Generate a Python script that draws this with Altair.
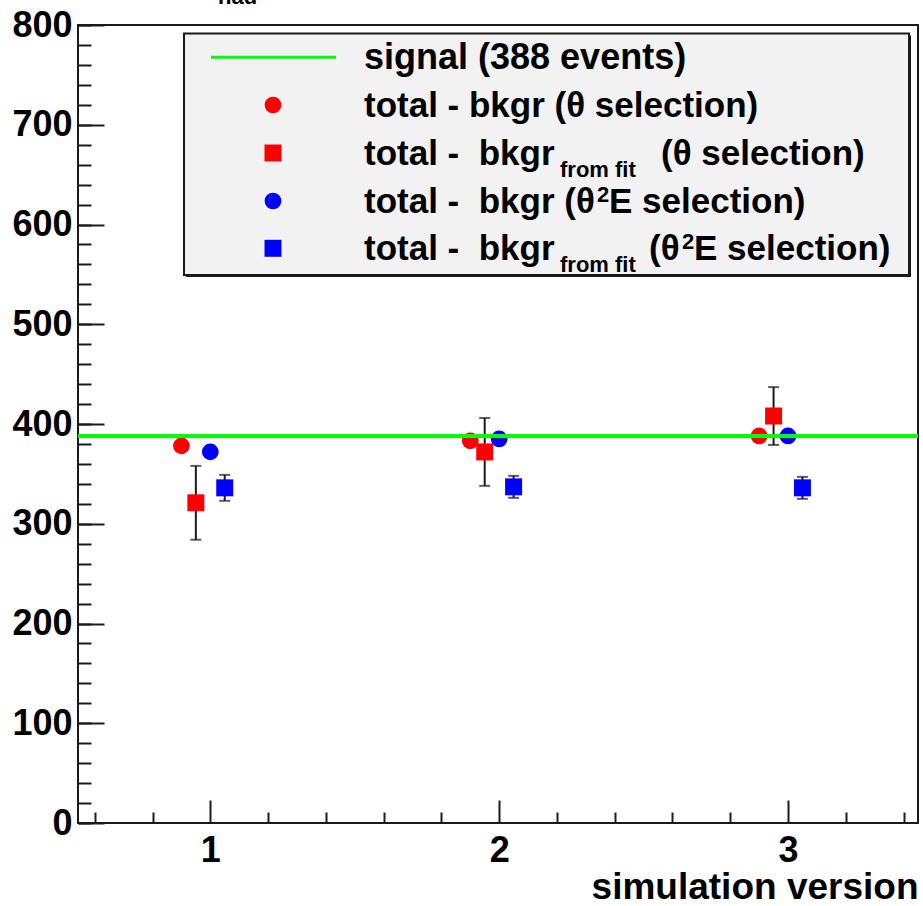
import altair as alt
import pandas as pd

FONT = "Liberation Sans"

# simulation versions and the horizontal placement of each series around them
versions = [1, 2, 3]
x_theta_bkgr = [0.90, 1.90, 2.90]
x_theta_fit = [0.95, 1.95, 2.95]
x_th2e_bkgr = [1.00, 2.00, 3.00]
x_th2e_fit = [1.05, 2.05, 3.05]

# signal estimates (events)
theta_bkgr = [378, 383, 388]
theta_fit = [321, 372, 408]
theta_fit_err = [37, 34, 29]
th2e_bkgr = [372, 385, 388]
th2e_fit = [336, 337, 336]
th2e_fit_err = [13, 11, 11]

signal_events = 388

# axis ranges and tick positions
x_domain = [0.542, 3.45]
y_domain = [0, 800]
x_major_ticks = [1, 2, 3]
x_minor_ticks = [0.6, 0.8, 1.2, 1.4, 1.6, 1.8, 2.2, 2.4, 2.6, 2.8, 3.2, 3.4]
y_major_ticks = [0, 100, 200, 300, 400, 500, 600, 700, 800]
y_minor_ticks = [0, 20, 40, 60, 80, 100, 120, 140, 160, 180, 200, 220, 240, 260,
                 280, 300, 320, 340, 360, 380, 400, 420, 440, 460, 480, 500, 520,
                 540, 560, 580, 600, 620, 640, 660, 680, 700, 720, 740, 760, 780, 800]

W, H = 840, 798
RED, BLUE, GREEN, INK = "#ff0000", "#0000ff", "#00ff00", "#1a1a1a"
CIRCLE_SIZE, SQUARE_SIZE = 280, 289
TICK_FONT, TITLE_FONT = 36, 37

xs = alt.Scale(domain=x_domain, nice=False, zero=False)
ys = alt.Scale(domain=y_domain, nice=False, zero=False)


def X(field, axis=None):
    if axis is None:
        return alt.X(field, type="quantitative", scale=xs, axis=None)
    return alt.X(field, type="quantitative", scale=xs, axis=axis, title=None)


def Y(field, axis=None):
    if axis is None:
        return alt.Y(field, type="quantitative", scale=ys, axis=None)
    return alt.Y(field, type="quantitative", scale=ys, axis=axis, title=None)


def markers(xv, yv, shape, color, size):
    df = pd.DataFrame({"x": xv, "y": yv})
    return alt.Chart(df).mark_point(
        shape=shape, filled=True, size=size, color=color, opacity=1, strokeWidth=0
    ).encode(x=X("x"), y=Y("y"))


def error_bars(xv, yv, ev):
    df = pd.DataFrame({"x": xv, "lo": [v - e for v, e in zip(yv, ev)],
                       "hi": [v + e for v, e in zip(yv, ev)]})
    base = alt.Chart(df)
    stem = base.mark_rule(color=INK, strokeWidth=2).encode(x=X("x"), y=Y("lo"), y2="hi")
    cap_lo = base.mark_tick(orient="horizontal", size=11, thickness=2, color=INK).encode(x=X("x"), y=Y("lo"))
    cap_hi = base.mark_tick(orient="horizontal", size=11, thickness=2, color=INK).encode(x=X("x"), y=Y("hi"))
    return [stem, cap_lo, cap_hi]


points_df = pd.DataFrame({"x": x_th2e_bkgr, "y": th2e_bkgr})

# axes carrying the tick labels and the x title (ticks are drawn inward separately)
label_axes = alt.Chart(points_df).mark_point(opacity=0).encode(
    x=alt.X("x", type="quantitative", scale=xs, title="simulation version",
            axis=alt.Axis(values=x_major_ticks, format="d", ticks=False, domain=False, grid=False,
                          labelFont=FONT, labelFontSize=TICK_FONT, labelFontWeight="bold",
                          labelColor="black", labelPadding=10, labelFlush=False,
                          labelOverlap=False, titleFont=FONT, titleFontSize=TITLE_FONT,
                          titleFontWeight="bold", titleColor="black", titleAnchor="end",
                          titleAlign="right", titleBaseline="alphabetic", titleX=W, titleY=75)),
    y=Y("y", alt.Axis(values=y_major_ticks, format="d", ticks=False, domain=False, grid=False,
                      labelFont=FONT, labelFontSize=TICK_FONT, labelFontWeight="bold",
                      labelColor="black", labelPadding=6, labelOverlap=False)),
)


def inward_ticks(xvals, yvals, xlen, ylen):
    return alt.Chart(points_df).mark_point(opacity=0).encode(
        x=X("x", alt.Axis(orient="top", offset=-H, values=xvals, tickSize=xlen, tickWidth=2,
                          tickColor=INK, labels=False, domain=False, grid=False)),
        y=Y("y", alt.Axis(orient="right", offset=-W, values=yvals, tickSize=ylen, tickWidth=2,
                          tickColor=INK, labels=False, domain=False, grid=False)),
    )


major_ticks = inward_ticks(x_major_ticks, y_major_ticks, 23, 26)
minor_ticks = inward_ticks(x_minor_ticks, y_minor_ticks, 11, 13)

signal_line = alt.Chart(pd.DataFrame({"signal": [signal_events]})).mark_rule(
    color=GREEN, strokeWidth=4
).encode(y=Y("signal"))

# ---- legend box ----
one = pd.DataFrame({"k": [0]})


def txt(s, x, y, size=35):
    return alt.Chart(one).mark_text(
        text=s, align="left", baseline="alphabetic", font=FONT, fontSize=size,
        fontWeight="bold", color="black"
    ).encode(x=alt.value(x), y=alt.value(y))


def sym(shape, color, size, x, y):
    return alt.Chart(one).mark_point(
        shape=shape, filled=True, size=size, color=color, opacity=1, strokeWidth=0
    ).encode(x=alt.value(x), y=alt.value(y))


box_x0, box_x1, box_y0, box_y1 = 106, 831, 8.5, 250
shadow = alt.Chart(one).mark_rect(fill=INK).encode(
    x=alt.value(box_x0 + 2), x2=alt.value(box_x1 + 2), y=alt.value(box_y0 + 2), y2=alt.value(box_y1 + 2))
box = alt.Chart(one).mark_rect(fill="#f2f2f2", stroke=INK, strokeWidth=2).encode(
    x=alt.value(box_x0), x2=alt.value(box_x1), y=alt.value(box_y0), y2=alt.value(box_y1))

rows = [32.3, 80, 128, 176, 223.3]
sym_x, tx = 195, 286
bl = [r + 12 for r in rows]

legend = [
    shadow, box,
    alt.Chart(one).mark_rule(color=GREEN, strokeWidth=3).encode(
        x=alt.value(133), x2=alt.value(258), y=alt.value(rows[0])),
    sym("circle", RED, CIRCLE_SIZE, sym_x, rows[1]),
    sym("square", RED, SQUARE_SIZE, sym_x, rows[2]),
    sym("circle", BLUE, CIRCLE_SIZE, sym_x, rows[3]),
    sym("square", BLUE, SQUARE_SIZE, sym_x, rows[4]),
    txt("signal (388 events)", tx, bl[0], 36),
    txt("total - bkgr (\u03b8 selection)", tx, bl[1]),
    txt("total -\u00a0 bkgr", tx, bl[2]),
    txt("from fit", 482, bl[2] + 12, 22),
    txt("(\u03b8 selection)", 583, bl[2]),
    txt("total -\u00a0 bkgr (\u03b8", tx, bl[3]),
    txt("2", 519, bl[3] - 11, 22),
    txt("E selection)", 531, bl[3]),
    txt("total -\u00a0 bkgr", tx, bl[4]),
    txt("from fit", 482, bl[4] + 12, 22),
    txt("(\u03b8", 571, bl[4]),
    txt("2", 604, bl[4] - 11, 22),
    txt("E selection)", 616, bl[4]),
]

# y title subscript, mostly above the page edge
y_title_sub = txt("had", 140, -21, 22)

layers = (
    [label_axes, major_ticks, minor_ticks]
    + error_bars(x_theta_fit, theta_fit, theta_fit_err)
    + error_bars(x_th2e_fit, th2e_fit, th2e_fit_err)
    + [markers(x_theta_bkgr, theta_bkgr, "circle", RED, CIRCLE_SIZE),
       markers(x_theta_fit, theta_fit, "square", RED, SQUARE_SIZE),
       markers(x_th2e_bkgr, th2e_bkgr, "circle", BLUE, CIRCLE_SIZE),
       markers(x_th2e_fit, th2e_fit, "square", BLUE, SQUARE_SIZE),
       signal_line]
    + legend
    + [y_title_sub]
)

chart = alt.layer(*layers).resolve_axis(x="independent", y="independent").properties(
    width=W, height=H,
    padding={"left": 78, "top": 25, "right": 5, "bottom": 83},
    autosize=alt.AutoSizeParams(type="none"),
    background="white",
).configure_view(stroke=INK, strokeWidth=2)

chart.save("out.html", embed_options={"renderer": "svg", "actions": False})
